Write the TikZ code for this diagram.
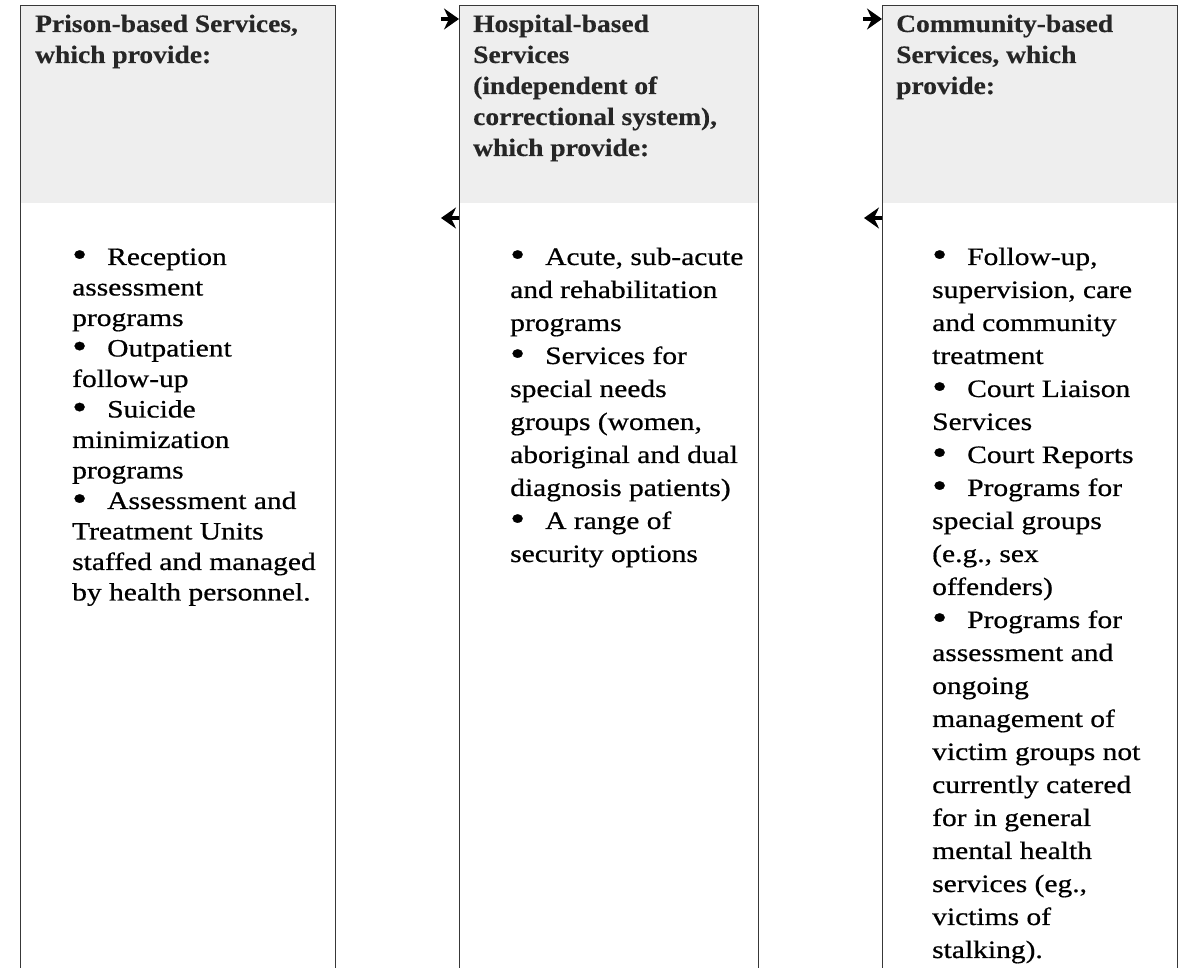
\documentclass[tikz,border=0pt]{standalone}
\usepackage{fontspec}
\setmainfont{Liberation Serif}
\newfontfamily\headfont[FakeStretch=1.1,FakeBold=0.4]{Liberation Serif}
\newfontfamily\listfont[FakeStretch=1.18,FakeBold=0.6]{Liberation Serif}
\usetikzlibrary{arrows.meta,backgrounds}
\definecolor{headgray}{HTML}{EEEEEE}
\definecolor{rulegray}{HTML}{383838}
\newcommand{\bul}{\makebox[35pt][l]{\raisebox{-1.5pt}{\fontsize{36}{0}\selectfont\textbullet}}}

\begin{document}
\begin{tikzpicture}[x=1pt,y=-1pt,
  svcbox/.style={draw=rulegray,line width=1.4pt,minimum height=1000pt,inner sep=0pt,anchor=north west},
  headtext/.style={anchor=base west,inner sep=0pt,text=black!85,font=\headfont\bfseries\fontsize{25}{31}\selectfont},
  listtext/.style={anchor=base west,inner sep=0pt,font=\listfont\fontsize{25}{33}\selectfont},
  linkarrow/.style={line width=4.5pt,arrows={-Stealth[length=15pt,width=21pt,inset=5pt]}}]

\useasboundingbox (0,0) rectangle (1183,968);

% the three columns
\node[svcbox,minimum width=315pt] (prison) at (20,5) {};
\node[svcbox,minimum width=299pt] (hospital) at (459,5) {};
\node[svcbox,minimum width=295pt] (community) at (882,5) {};

\coordinate (headline) at (0,203);
\begin{scope}[on background layer]
\fill[headgray] (prison.north west) rectangle (prison.north east |- headline);
\fill[headgray] (hospital.north west) rectangle (hospital.north east |- headline);
\fill[headgray] (community.north west) rectangle (community.north east |- headline);
\end{scope}

% headings
\node[headtext] (prisonhead) at (35,32) {\parbox[t]{295pt}{Prison-based Services,\\ which provide:}};
\node[headtext] (hospitalhead) at (473,32) {\parbox[t]{280pt}{Hospital-based\\ Services\\ (independent of\\ correctional system),\\ which provide:}};
\node[headtext] (communityhead) at (896,32) {\parbox[t]{280pt}{Community-based\\ Services, which\\ provide:}};

% lists
\node[listtext,font=\listfont\fontsize{25}{30.5}\selectfont] (prisonlist) at (72,265) {\parbox[t]{262pt}{\raggedright
\bul Reception\\
assessment\\
programs\\
\bul Outpatient\\
follow-up\\
\bul Suicide\\
minimization\\
programs\\
\bul Assessment and\\
Treatment Units\\
staffed and managed\\
by health personnel.}};

\node[listtext] (hospitallist) at (510,265) {\parbox[t]{246pt}{\raggedright
\bul Acute, sub-acute\\
and rehabilitation\\
programs\\
\bul Services for\\
special needs\\
groups (women,\\
aboriginal and dual\\
diagnosis patients)\\
\bul A range of\\
security options}};

\node[listtext] (communitylist) at (932,265) {\parbox[t]{244pt}{\raggedright
\bul Follow-up,\\
supervision, care\\
and community\\
treatment\\
\bul Court Liaison\\
Services\\
\bul Court Reports\\
\bul Programs for\\
special groups\\
(e.g., sex\\
offenders)\\
\bul Programs for\\
assessment and\\
ongoing\\
management of\\
victim groups not\\
currently catered\\
for in general\\
mental health\\
services (eg.,\\
victims of\\
stalking).}};

% links between columns
\coordinate (hospin) at (441,19);
\coordinate (hospout) at (441,218);
\coordinate (commin) at (863,19);
\coordinate (commout) at (864,218);
\draw[linkarrow] (hospin) -- (hospin -| hospital.west);
\draw[linkarrow] (hospout -| hospital.west) -- (hospout);
\draw[linkarrow] (commin) -- (commin -| community.west);
\draw[linkarrow] (commout -| community.west) -- (commout);
\end{tikzpicture}
\end{document}
